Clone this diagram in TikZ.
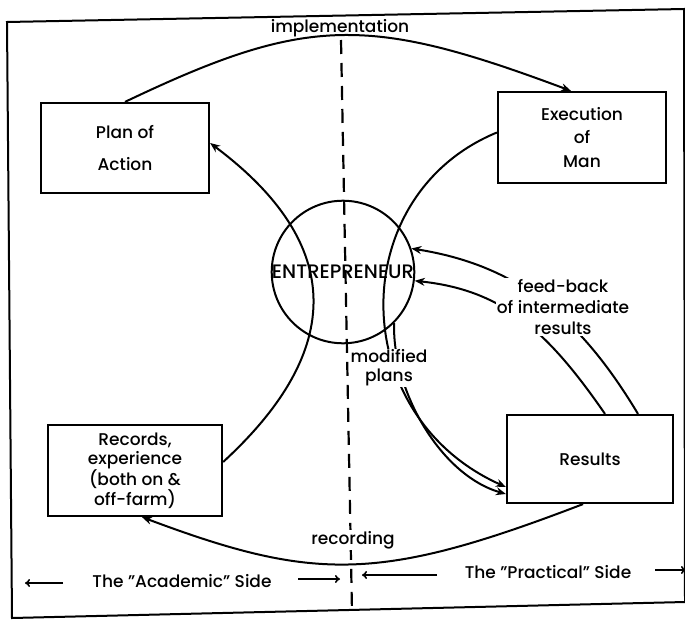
\documentclass[tikz,border=0pt]{standalone}
\usepackage{fontspec}
\setmainfont{Poppins}[UprightFont={* Medium}]
\usetikzlibrary{arrows.meta}
\begin{document}
\begin{tikzpicture}[x=1pt,y=-1pt,
  boxnode/.style={draw, line width=2.2pt, align=center, inner sep=0pt},
  conn/.style={line width=2pt},
  arr/.style={conn, -{Stealth[length=10pt,width=8pt]}},
  lbl/.style={align=center, inner sep=1pt},
  sidearr/.style={line width=1.6pt, -{To[length=5pt,width=8pt]}},
  every node/.style={font=\fontsize{17}{20}\selectfont}
]
\useasboundingbox (0,0) rectangle (685,621);
% frame
\draw[line width=2pt] (7,22) -- (684,9) -- (685,602) -- (12,618) -- cycle;
% divider
\coordinate (dtop) at (341,40);
\coordinate (dbot) at (352,612);
\draw[line width=2.2pt, dash pattern=on 14pt off 9pt] (dtop) -- (dbot);

% boxes
\node[boxnode, minimum width=168pt, minimum height=90pt, font=\fontsize{17}{32}\selectfont] (plan) at (125,148) {Plan of\\Action};
\node[boxnode, minimum width=168pt, minimum height=91pt, font=\fontsize{17}{23.5}\selectfont] (exec) at (582,137.5) {Execution\\of\\Man};
\node[boxnode, minimum width=174pt, minimum height=91pt, font=\fontsize{17}{19.5}\selectfont] (records) at (135,470.5) {Records,\\experience\\(both on \&\\off-farm)};
\node[boxnode, minimum width=166pt, minimum height=88pt] (results) at (590,459) {Results};
\node[draw, circle, line width=2pt, minimum size=122pt, inner sep=0pt, font=\fontsize{19.5}{22}\selectfont] (ent) at (343,272) {ENTREPRENEUR};

% connectors
\draw[arr] (plan.north) .. controls (307,15) and (368,15) .. ([xshift=-11pt]exec.north);
\draw[arr] ([yshift=5pt]exec.west) .. controls (345,195) and (345,415) .. ([yshift=-28pt]results.west);
\draw[arr] (ent.-45) .. controls (392,390) and (440,475) .. ([yshift=-35pt]results.west);
\draw[arr] ([yshift=8.5pt]records.east) .. controls (345,350) and (345,244) .. ([yshift=5pt]plan.east);
\draw[arr] ([xshift=-7pt]results.south) .. controls (380,582) and (315,582) .. ([xshift=7pt]records.south);
\draw[arr] ([xshift=48pt]results.north) .. controls (578,314) and (515,265) .. (ent.19);
\draw[arr] ([xshift=15pt]results.north) .. controls (547,330) and (502,290) .. (ent.-7);

% labels
\node[lbl] (impl) at (340,28) {implementation};
\node[lbl, fill=white, font=\fontsize{17}{21}\selectfont] (fb) at (563,307) {feed-back\\of intermediate\\results};
\node[lbl, fill=white, font=\fontsize{17}{19}\selectfont] (mod) at (389,368) {modified\\plans};
\node[lbl, fill=white] (rec) at (353,540) {recording};

% sides
\node[lbl] (acad) at (182,581) {The ''Academic'' Side};
\node[lbl] (prac) at (548,572) {The ''Practical'' Side};
\coordinate (aL1) at (63,583); \coordinate (aL2) at (25,583);
\coordinate (aR1) at (298,579); \coordinate (aR2) at (340,579);
\coordinate (pL1) at (437,575); \coordinate (pL2) at (362,575);
\coordinate (pR1) at (655,570); \coordinate (pR2) at (686,570);
\draw[sidearr] (aL1) -- (aL2);
\draw[sidearr] (aR1) -- (aR2);
\draw[sidearr] (pL1) -- (pL2);
\draw[sidearr] (pR1) -- (pR2);
\end{tikzpicture}
\end{document}
